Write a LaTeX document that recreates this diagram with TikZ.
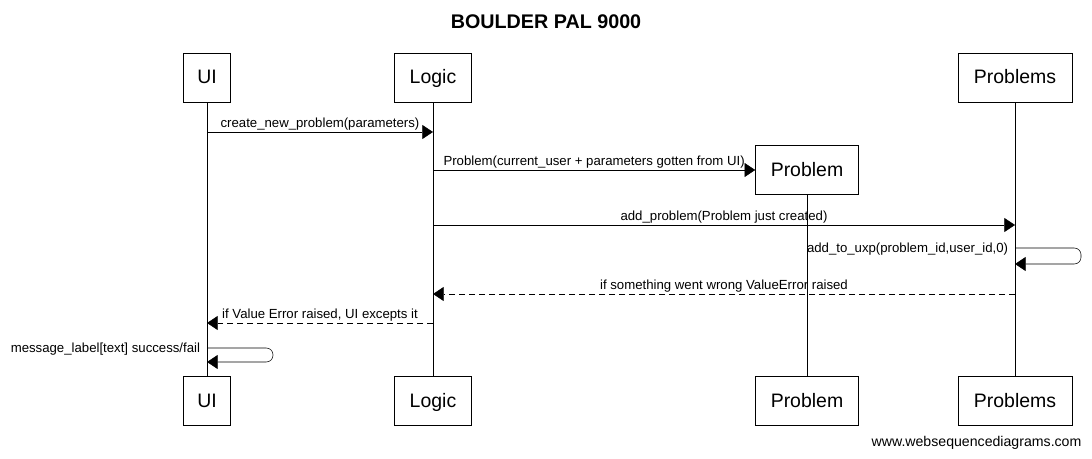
\documentclass[tikz,border=0pt]{standalone}
\usepackage{fontspec}
\setmainfont{Liberation Sans}
\usetikzlibrary{arrows.meta, positioning}

\tikzset{
	actor/.style={draw, minimum height=49*0.75pt, inner sep=0pt, text height=2ex, text depth=0.25ex, font=\fontsize{14.6}{16}\selectfont},
	msg/.style={draw, -{Triangle[length=8pt, width=10.5pt]}},
	reply/.style={msg, dash pattern=on 4.5pt off 3pt},
	msglabel/.style={font=\fontsize{9.9}{11}\selectfont, inner sep=1pt}
}

\begin{document}
\begin{tikzpicture}[x=0.75pt, y=-0.75pt]

	\useasboundingbox (0,0) rectangle (1092,459);

	\node (title) [font=\bfseries\fontsize{14.8}{16}\selectfont] at (546,22) {BOULDER PAL 9000};

	% participants, top
	\node (ui) [actor, minimum width=47*0.75pt] at (207,77.5) {UI};
	\node (logic) [actor, minimum width=77*0.75pt] at (433,77.5) {Logic};
	\node (probs) [actor, minimum width=114*0.75pt] at (1015,77.5) {Problems};
	\node (prob) [actor, minimum width=103*0.75pt] at (807,170) {Problem};

	% participants, bottom
	\node (ui_b) [actor, minimum width=47*0.75pt] at (207,401) {UI};
	\node (logic_b) [actor, minimum width=77*0.75pt] at (433,401) {Logic};
	\node (prob_b) [actor, minimum width=103*0.75pt] at (807,401) {Problem};
	\node (probs_b) [actor, minimum width=114*0.75pt] at (1015,401) {Problems};

	% lifelines
	\path[draw] (ui) -- (ui_b);
	\path[draw] (logic) -- (logic_b);
	\path[draw] (prob) -- (prob_b);
	\path[draw] (probs) -- (probs_b);

	% messages
	\path[msg] (ui |- 0,132) -- node[msglabel, above] {create\_new\_problem(parameters)} (logic |- 0,132);
	\path[msg] (logic |- 0,170) -- node[msglabel, above] {Problem(current\_user + parameters gotten from UI)} (prob.west);
	\path[msg] (logic |- 0,225) -- node[msglabel, above] {add\_problem(Problem just created)} (probs |- 0,225);
	\coordinate (uxp_start) at (probs |- 0,248);
	\path[msg, rounded corners=5pt] (uxp_start) -- ++(66,0) -- ++(0,16) -- (probs |- 0,264);
	\node (uxp) [msglabel, left=4pt of uxp_start, yshift=-1pt] {add\_to\_uxp(problem\_id,user\_id,0)};
	\path[reply] (probs |- 0,294) -- node[msglabel, above] {if something went wrong ValueError raised} (logic |- 0,294);
	\path[reply] (logic |- 0,323) -- node[msglabel, above] {if Value Error raised, UI excepts it} (ui |- 0,323);
	\coordinate (result_start) at (ui |- 0,348);
	\path[msg, rounded corners=5pt] (result_start) -- ++(66,0) -- ++(0,14) -- (ui |- 0,362);
	\node (result) [msglabel, left=4pt of result_start, yshift=-1pt] {message\_label[text] success/fail};

	\node (footer) [anchor=east, inner sep=1pt, font=\fontsize{10.6}{12}\selectfont] at (1083,443) {www.websequencediagrams.com};

\end{tikzpicture}
\end{document}
